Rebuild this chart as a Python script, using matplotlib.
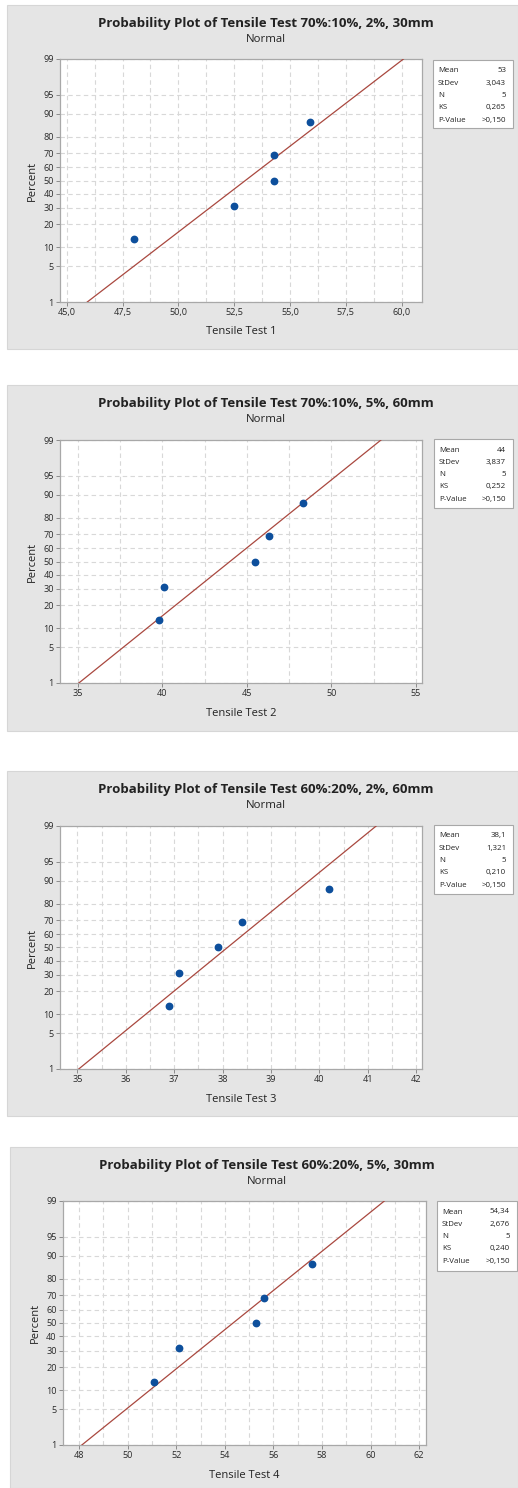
import matplotlib
matplotlib.use('Agg')
from matplotlib import pyplot as plt
from matplotlib.patches import Rectangle
from statistics import NormalDist
import numpy as np

plt.rcParams['font.family'] = ['Open Sans', 'DejaVu Sans']

# chart data
titles = ['Probability Plot of Tensile Test 70%:10%, 2%, 30mm',
          'Probability Plot of Tensile Test 70%:10%, 5%, 60mm',
          'Probability Plot of Tensile Test 60%:20%, 2%, 60mm',
          'Probability Plot of Tensile Test 60%:20%, 5%, 30mm']
xlabels = ['Tensile Test 1', 'Tensile Test 2', 'Tensile Test 3', 'Tensile Test 4']

test1 = [48.0, 52.5, 54.3, 54.3, 55.9]
test2 = [39.8, 40.1, 45.5, 46.3, 48.3]
test3 = [36.9, 37.1, 37.9, 38.4, 40.2]
test4 = [51.1, 52.1, 55.3, 55.6, 57.6]
percent = [12.96, 31.48, 50.0, 68.52, 87.04]

means = [53.0, 44.0, 38.1, 54.34]
stdevs = [3.043, 3.837, 1.321, 2.676]
stat_labels = ['Mean', 'StDev', 'N', 'KS', 'P-Value']
stat_text = [['53', '3,043', '5', '0,265', '>0,150'],
             ['44', '3,837', '5', '0,252', '>0,150'],
             ['38,1', '1,321', '5', '0,210', '>0,150'],
             ['54,34', '2,676', '5', '0,240', '>0,150']]

xticks1 = [45.0, 47.5, 50.0, 52.5, 55.0, 57.5, 60.0]
xticklabels1 = ['45,0', '47,5', '50,0', '52,5', '55,0', '57,5', '60,0']
xticks2 = [35, 40, 45, 50, 55]
xticks3 = [35, 36, 37, 38, 39, 40, 41, 42]
xticks4 = [48, 50, 52, 54, 56, 58, 60, 62]
ypct = [1, 5, 10, 20, 30, 40, 50, 60, 70, 80, 90, 95, 99]

# layout (pixels in a 518 x 1488 picture)
W, H = 518.0, 1488.0
panels = [(7, 5, 518, 349), (7, 385, 518, 731), (7, 771, 518, 1116), (10, 1147, 518, 1488)]
axboxes = [(60, 59, 422, 302), (60, 440, 422, 683), (60, 826, 422, 1069), (63, 1201, 426, 1445)]
statboxes = [(433, 60, 513, 128), (434, 439, 513, 508), (434, 825, 513, 894), (437, 1201, 517, 1271)]
xlims = [(44.70, 60.91), (33.96, 55.35), (34.64, 42.12), (47.34, 62.28)]
gridsteps = [1.25, 2.5, 0.5, 1.0]

datas = [test1, test2, test3, test4]
xtick_sets = [(xticks1, xticklabels1),
              (xticks2, [str(v) for v in xticks2]),
              (xticks3, [str(v) for v in xticks3]),
              (xticks4, [str(v) for v in xticks4])]

nd = NormalDist()
z = lambda p: nd.inv_cdf(p / 100.0)

fig = plt.figure(figsize=(W / 100, H / 100), dpi=100)
fig.patch.set_facecolor('white')

def fx(x):
    return x / W

def fy(y):
    return 1 - y / H

for i in range(4):
    gx0, gy0, gx1, gy1 = panels[i]
    fig.add_artist(Rectangle((fx(gx0), fy(gy1)), fx(gx1) - fx(gx0), fy(gy0) - fy(gy1),
                             transform=fig.transFigure, facecolor='#e5e5e5',
                             edgecolor='#d6d6d6', lw=0.8, zorder=0))

    ax0, ay0, ax1, ay1 = axboxes[i]
    ax = fig.add_axes([fx(ax0), fy(ay1), fx(ax1) - fx(ax0), fy(ay0) - fy(ay1)])
    ax.set_facecolor('white')

    # fitted line from 1% to 99%
    zl = np.array([z(1), z(99)])
    ax.plot(means[i] + stdevs[i] * zl, zl, color='#a9483f', lw=0.9, zorder=3)
    ax.plot(datas[i], [z(p) for p in percent], 'o', color='#0d4f9c',
            markersize=4.6, zorder=4)

    ax.set_xlim(*xlims[i])
    ax.set_ylim(z(1), z(99))
    ticks, labels = xtick_sets[i]
    ax.set_xticks(ticks)
    ax.set_xticklabels(labels)
    minor = np.arange(ticks[0], ticks[-1] + 1e-6, gridsteps[i])
    ax.set_xticks(minor, minor=True)
    ax.set_yticks([z(p) for p in ypct])
    ax.set_yticklabels([str(p) for p in ypct])

    ax.grid(True, which='both', axis='x', color='#d8d8d8', ls=(0, (4, 3)), lw=0.8)
    ax.grid(True, which='major', axis='y', color='#d8d8d8', ls=(0, (4, 3)), lw=0.8)
    ax.set_axisbelow(True)
    ax.tick_params(which='major', labelsize=6.6, length=3, width=0.7,
                   color='#8c8c8c', labelcolor='#2a2a2a', pad=1.5)
    ax.tick_params(which='minor', length=0)
    for s in ax.spines.values():
        s.set_color('#a8a8a8')
        s.set_linewidth(0.9)

    cx = (gx0 + gx1) / 2 + 3
    fig.text(fx(cx), fy(gy0 + 18), titles[i], ha='center', va='center',
             fontsize=9.5, fontweight='bold', color='#222222')
    fig.text(fx(cx), fy(gy0 + 35), 'Normal', ha='center', va='center',
             fontsize=8.2, color='#222222')
    fig.text(fx((ax0 + ax1) / 2), fy(ay1 + 30), xlabels[i], ha='center', va='center',
             fontsize=8, color='#222222')
    fig.text(fx(ax0 - 28), fy((ay0 + ay1) / 2), 'Percent', ha='center', va='center',
             rotation=90, fontsize=8, color='#222222')

    sx0, sy0, sx1, sy1 = statboxes[i]
    fig.add_artist(Rectangle((fx(sx0), fy(sy1)), fx(sx1) - fx(sx0), fy(sy0) - fy(sy1),
                             transform=fig.transFigure, facecolor='white',
                             edgecolor='#a8a8a8', lw=0.8, zorder=1))
    for k in range(5):
        yy = fy(sy0 + 11 + k * 12.3)
        fig.text(fx(sx0 + 5), yy, stat_labels[k], ha='left', va='center',
                 fontsize=5.7, color='#222222')
        fig.text(fx(sx1 - 7), yy, stat_text[i][k], ha='right', va='center',
                 fontsize=5.7, color='#222222')

fig.savefig('out.png', dpi=100)
